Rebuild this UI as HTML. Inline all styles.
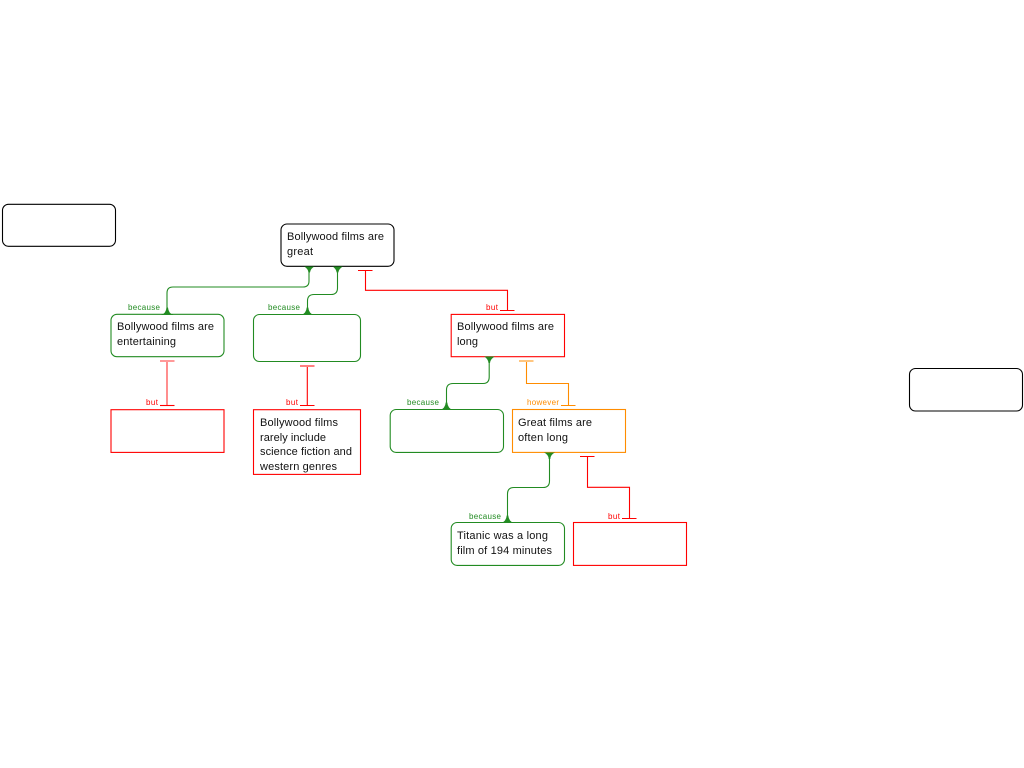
<!DOCTYPE html>
<html><head><meta charset="utf-8"><style>
html,body{margin:0;padding:0;background:#fff;width:1024px;height:768px;overflow:hidden}
svg{display:block}
text{font-family:"Liberation Sans",Arial,sans-serif}
.t{font-size:11px;fill:#111}
.l{font-size:8px}
.g{stroke:#228b22;fill:none;stroke-width:1.1}
.r{stroke:#ff0000;fill:none;stroke-width:1.1}
.o{stroke:#ff8c00;fill:none;stroke-width:1.1}
.k{stroke:#000;fill:#fff;stroke-width:1.1}
.b{fill:#fff}
</style></head><body>
<svg width="1024" height="768" viewBox="0 0 1024 768">
<!-- boxes -->
<rect class="k" x="2.500" y="204.300" width="113" height="42" rx="6"/>
<rect class="k" x="909.500" y="368.500" width="113" height="42.500" rx="6"/>
<rect class="k" x="281" y="224" width="113" height="42.300" rx="6"/>
<rect class="g b" x="111" y="314.300" width="113" height="42.400" rx="6"/>
<rect class="g b" x="253.500" y="314.500" width="107" height="47" rx="6"/>
<rect class="r b" x="451.200" y="314.400" width="113.300" height="42.300"/>
<rect class="r b" x="111" y="409.700" width="113" height="42.700"/>
<rect class="r b" x="253.500" y="409.700" width="107" height="64.700"/>
<rect class="g b" x="390.200" y="409.500" width="113.300" height="42.900" rx="6"/>
<rect class="o b" x="512.500" y="409.500" width="113" height="42.900"/>
<rect class="g b" x="451.200" y="522.500" width="113.300" height="42.900" rx="6"/>
<rect class="r b" x="573.500" y="522.500" width="113" height="42.900"/>
<!-- green connectors -->
<path class="g" d="M309 267V281Q309 287 303 287H173Q167 287 167 293V314"/>
<path class="g" d="M337.500 267V288Q337.500 294.500 331 294.500H314Q307.500 294.500 307.500 301V314"/>
<path class="g" d="M489.200 357V377Q489.200 383.500 483 383.500H453Q446.500 383.500 446.500 390V409"/>
<path class="g" d="M549.500 453V481Q549.500 487.500 543 487.500H514Q507.500 487.500 507.500 494V522"/>
<!-- green arrowheads -->
<g fill="#228b22">
<path d="M304 266.500H314.500Q310.500 268.500 310 272.500H308.500Q308 268.500 304 266.500Z"/>
<path d="M332.500 266.500H343Q339 268.500 338.300 272.500H336.700Q336 268.500 332.500 266.500Z"/>
<path d="M484 356.500H495Q490.500 358.500 490 363H488.500Q488 358.500 484 356.500Z"/>
<path d="M544 452.500H555Q550.500 454.500 550.300 459H548.700Q548.500 454.500 544 452.500Z"/>
<path d="M161 315H173.500Q168.500 313.500 168 307.500H166.500Q166 313.500 161 315Z"/>
<path d="M301 315H314Q308.800 313.500 308.300 307.500H306.700Q306.200 313.500 301 315Z"/>
<path d="M440 410H453Q447.800 408.500 447.300 402.500H445.700Q445.200 408.500 440 410Z"/>
<path d="M501 523H514Q508.800 521.500 508.300 515.500H506.700Q506.200 521.500 501 523Z"/>
</g>
<!-- red connectors -->
<path class="r" d="M358 270.500H372.500M365.500 271V290.300H507.500V310M500 310.500H514.500"/>
<path class="r" stroke-opacity=".8" d="M160 361H174.500M167 362V405"/>
<path class="r" d="M160 405.500H174.500"/>
<path class="r" d="M300 366H314.500M307.300 367V405M300 405.500H314.500"/>
<path class="r" d="M580 456.500H594.500M587.500 457V487.300H629.500V518M622 518.500H636.500"/>
<!-- orange connector -->
<path class="o" d="M519 361H533.500M526.500 362V383.500H568.500V405M561 405.500H575.500"/>
<!-- node text -->
<text class="t" x="287" y="240" textLength="97">Bollywood films are</text>
<text class="t" x="287" y="255" textLength="26">great</text>
<text class="t" x="117" y="330" textLength="97">Bollywood films are</text>
<text class="t" x="117" y="345" textLength="59">entertaining</text>
<text class="t" x="457" y="330" textLength="97">Bollywood films are</text>
<text class="t" x="457" y="345" textLength="21">long</text>
<text class="t" x="260" y="426" textLength="78">Bollywood films</text>
<text class="t" x="260" y="441" textLength="66">rarely include</text>
<text class="t" x="260" y="455" textLength="92">science fiction and</text>
<text class="t" x="260" y="470" textLength="77">western genres</text>
<text class="t" x="518" y="426" textLength="74">Great films are</text>
<text class="t" x="518" y="441" textLength="50">often long</text>
<text class="t" x="457" y="539" textLength="91">Titanic was a long</text>
<text class="t" x="457" y="554" textLength="95">film of 194 minutes</text>
<!-- labels -->
<g fill="#228b22">
<text class="l" x="128" y="310" textLength="32">because</text>
<text class="l" x="268" y="310" textLength="32">because</text>
<text class="l" x="407" y="405" textLength="32">because</text>
<text class="l" x="469" y="519" textLength="32">because</text>
</g>
<g fill="#ff0000">
<text class="l" x="486" y="310" textLength="12">but</text>
<text class="l" x="146" y="405" textLength="12">but</text>
<text class="l" x="286" y="405" textLength="12">but</text>
<text class="l" x="608" y="519" textLength="12">but</text>
</g>
<text class="l" x="527" y="405" textLength="32" fill="#ff8c00">however</text>
</svg>
</body></html>
